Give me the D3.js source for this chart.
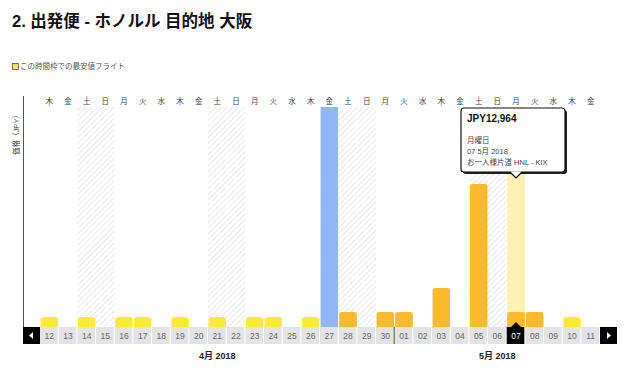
<!DOCTYPE html>
<html>
<head>
<meta charset="utf-8">
<script src="https://cdn.jsdelivr.net/npm/d3@7"></script>
<style>
  body { margin: 0; background: #fff; }
  svg { display: block; font-family: "Liberation Sans", "Noto Sans CJK JP", sans-serif; }
</style>
</head>
<body>
<svg id="chart"></svg>
<script>
var width = 640;
var height = 375;

// data
var days = ["12","13","14","15","16","17","18","19","20","21","22","23","24","25","26","27","28","29","30",
            "01","02","03","04","05","06","07","08","09","10","11"];
var months = ["4月 2018","4月 2018","4月 2018","4月 2018","4月 2018","4月 2018","4月 2018","4月 2018","4月 2018","4月 2018",
              "4月 2018","4月 2018","4月 2018","4月 2018","4月 2018","4月 2018","4月 2018","4月 2018","4月 2018",
              "5月 2018","5月 2018","5月 2018","5月 2018","5月 2018","5月 2018","5月 2018","5月 2018","5月 2018","5月 2018","5月 2018"];
var weekdays = ["木","金","土","日","月","火","水","木","金","土","日","月","火","水","木","金","土","日","月",
                "火","水","木","金","土","日","月","火","水","木","金"];
var prices = [8640,null,8640,null,8640,8640,null,8640,null,8640,null,8640,8640,null,8640,null,12964,null,12964,
              12964,null,33700,null,123600,null,12964,12964,null,8640,null];
var cheapest = [1,0,1,0,1,1,0,1,0,1,0,1,1,0,1,0,0,0,0,
                0,0,0,0,0,0,0,0,0,1,0];
var outboundDay = "27";
var selectedDay = "07";

var svg = d3.select("#chart").attr("width", width).attr("height", height);

var x = d3.scaleBand().domain(d3.range(days.length)).range([40, 600]).paddingInner(0.06).paddingOuter(0.03);
var y = d3.scaleLinear().domain([0, 190000]).range([327, 107]);
var step = x.step();

var defs = svg.append("defs");
var pat = defs.append("pattern")
    .attr("id", "hatch")
    .attr("patternUnits", "userSpaceOnUse")
    .attr("width", 4).attr("height", 4)
    .attr("patternTransform", "rotate(45)");
pat.append("rect").attr("width", 4).attr("height", 4).attr("fill", "#fff");
pat.append("line").attr("x1", 0).attr("y1", 0).attr("x2", 0).attr("y2", 4)
    .attr("stroke", "#e2e2e2").attr("stroke-width", 1.6);

// title and legend
svg.append("text").attr("x", 12).attr("y", 27)
    .style("font-size", "16.5px").style("font-weight", "bold").attr("fill", "#111")
    .text("2. 出発便 - ホノルル 目的地 大阪");
svg.append("rect").attr("x", 12.5).attr("y", 63.5).attr("width", 6).attr("height", 6)
    .attr("fill", "#ffe93b").attr("stroke", "#555").attr("stroke-width", 0.8);
svg.append("text").attr("x", 20).attr("y", 69)
    .style("font-size", "7.5px").attr("fill", "#555").text("この時間枠での最安値フライト");

// weekend hatching
var weekend = days.map(function (d, i) { return i; })
    .filter(function (i) { return weekdays[i] === "土" || weekdays[i] === "日"; });
svg.append("g").selectAll("rect").data(weekend).enter().append("rect")
    .attr("x", function (i) { return 40 + i * step; })
    .attr("y", y.range()[1])
    .attr("width", step)
    .attr("height", y.range()[0] - y.range()[1])
    .attr("fill", "url(#hatch)");

// weekday labels
svg.append("g").selectAll("text").data(weekdays).enter().append("text")
    .attr("x", function (d, i) { return x(i) + x.bandwidth() / 2; })
    .attr("y", 104)
    .attr("text-anchor", "middle")
    .style("font-size", "7.5px").attr("fill", "#444")
    .text(function (d) { return d; });

// highlight columns (outbound + selected)
var hl = days.map(function (d, i) { return i; })
    .filter(function (i) { return days[i] === outboundDay || days[i] === selectedDay; });
svg.append("g").selectAll("rect").data(hl).enter().append("rect")
    .attr("x", function (i) { return x(i); })
    .attr("y", y(190000))
    .attr("width", x.bandwidth())
    .attr("height", y(0) - y(190000))
    .attr("fill", function (i) { return days[i] === outboundDay ? "#8fb7fb" : "#fff0b3"; });

// price bars
function barPath(x0, y0, w, h, r) {
    r = Math.min(r, h, w / 2);
    return "M" + x0 + "," + (y0 + h) + "V" + (y0 + r) + "Q" + x0 + "," + y0 + " " + (x0 + r) + "," + y0 +
        "H" + (x0 + w - r) + "Q" + (x0 + w) + "," + y0 + " " + (x0 + w) + "," + (y0 + r) + "V" + (y0 + h) + "Z";
}
var barIdx = prices.map(function (p, i) { return i; }).filter(function (i) { return prices[i] != null; });
svg.append("g").selectAll("path").data(barIdx).enter().append("path")
    .attr("d", function (i) {
        return barPath(x(i), y(prices[i]), x.bandwidth(), y(0) - y(prices[i]), 2.5);
    })
    .attr("fill", function (i) { return cheapest[i] ? "#ffe93b" : "#fbbb2b"; });

// y axis line and label
svg.append("line").attr("x1", 23.5).attr("x2", 23.5).attr("y1", 96).attr("y2", 327)
    .attr("stroke", "#555").attr("stroke-width", 1);
svg.append("text")
    .attr("transform", "translate(19,133) rotate(-90)")
    .attr("text-anchor", "middle")
    .style("font-size", "7.5px").attr("fill", "#444")
    .text("価格（JPY）");

// date row
var row = svg.append("g");
row.selectAll("rect").data(days).enter().append("rect")
    .attr("x", function (d, i) { return 40 + i * step; })
    .attr("y", 327)
    .attr("width", step - 1)
    .attr("height", 17)
    .attr("fill", function (d) { return d === selectedDay ? "#000" : "#e3e3e3"; });
row.selectAll("text").data(days).enter().append("text")
    .attr("x", function (d, i) { return x(i) + x.bandwidth() / 2; })
    .attr("y", 339)
    .attr("text-anchor", "middle")
    .style("font-size", "8.5px")
    .attr("fill", function (d) { return d === selectedDay ? "#fff" : "#666"; })
    .text(function (d) { return d; });

// month boundary line
var firstMay = days.indexOf("01");
svg.append("line")
    .attr("x1", 40 + firstMay * step - 0.5).attr("x2", 40 + firstMay * step - 0.5)
    .attr("y1", 327).attr("y2", 344)
    .attr("stroke", "#444").attr("stroke-width", 1);

// selected marker triangle
var si = days.indexOf(selectedDay);
var scx = x(si) + x.bandwidth() / 2;
svg.append("path").attr("d", "M" + (scx - 5) + ",327L" + scx + ",322L" + (scx + 5) + ",327Z").attr("fill", "#000");

// scroll buttons
svg.append("rect").attr("x", 23).attr("y", 327).attr("width", 17).attr("height", 17).attr("fill", "#000");
svg.append("path").attr("d", "M29,335.5L33,332V339Z").attr("fill", "#fff");
svg.append("rect").attr("x", 600).attr("y", 327).attr("width", 17).attr("height", 17).attr("fill", "#000");
svg.append("path").attr("d", "M611,335.5L607,332V339Z").attr("fill", "#fff");

// month labels
var monthNames = Array.from(new Set(months));
svg.append("g").selectAll("text").data(monthNames).enter().append("text")
    .attr("x", function (m) {
        var idx = months.map(function (v, i) { return v === m ? i : -1; }).filter(function (i) { return i >= 0; });
        return 40 + (idx[0] + (idx[idx.length - 1] + 1)) / 2 * step;
    })
    .attr("y", 359)
    .attr("text-anchor", "middle")
    .style("font-size", "9px").style("font-weight", "bold").attr("fill", "#222")
    .text(function (m) { return m; });

// tooltip for the selected day
var tip = svg.append("g");
var tx = 461, ty = 108, tw = 104, th = 64;
tip.append("rect").attr("x", tx + 2).attr("y", ty + 2).attr("width", tw).attr("height", th)
    .attr("rx", 3).attr("fill", "#222");
tip.append("rect").attr("x", tx).attr("y", ty).attr("width", tw).attr("height", th)
    .attr("rx", 3).attr("fill", "#fff").attr("stroke", "#111").attr("stroke-width", 1.2);
tip.append("path")
    .attr("d", "M" + (scx - 6) + "," + (ty + th - 0.6) + "L" + scx + "," + (ty + th + 6) + "L" + (scx + 6) + "," + (ty + th - 0.6) + "Z")
    .attr("fill", "#fff");
tip.append("path")
    .attr("d", "M" + (scx - 6) + "," + (ty + th) + "L" + scx + "," + (ty + th + 6) + "L" + (scx + 6) + "," + (ty + th))
    .attr("fill", "none").attr("stroke", "#111").attr("stroke-width", 1.2);
tip.append("text").attr("x", tx + 6).attr("y", ty + 14)
    .style("font-size", "10px").style("font-weight", "bold").attr("fill", "#111")
    .text("JPY" + d3.format(",")(prices[si]));
var tipLines = ["月曜日", selectedDay + " " + months[si], "お一人様片道 HNL - KIX"];
tip.selectAll("text.l").data(tipLines).enter().append("text").attr("class", "l")
    .attr("x", tx + 6)
    .attr("y", function (d, i) { return ty + 35 + i * 11; })
    .style("font-size", "7.5px").attr("fill", "#444")
    .text(function (d) { return d; });
</script>
</body>
</html>
